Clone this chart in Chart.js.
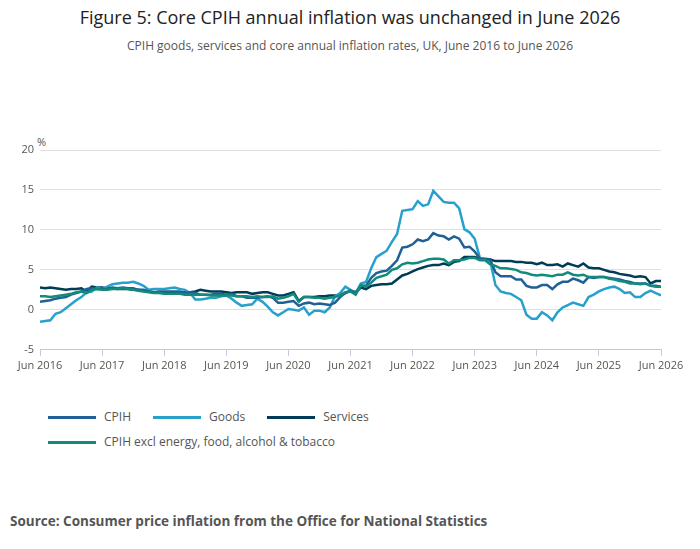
<!DOCTYPE html>
<html lang="en">
<head>
<meta charset="UTF-8">
<title>Figure 5: Core CPIH annual inflation</title>
<script src="https://cdn.jsdelivr.net/npm/chart.js"></script>
<style>
  body { margin: 0; width: 700px; height: 549px; font-family: "Open Sans", sans-serif; background: #fff; position: relative; }
  h1 { position: absolute; top: 5px; left: 0; width: 700px; margin: 0; text-align: center; font-size: 18px; font-weight: normal; color: #222; }
  .sub { position: absolute; top: 37px; left: 0; width: 700px; text-align: center; font-size: 12px; color: #555; }
  .pct { position: absolute; top: 134px; left: 37px; font-size: 11px; color: #555; }
  #wrap { position: absolute; top: 137px; left: 0; width: 700px; height: 238px; }
  .legend { position: absolute; left: 48px; font-size: 12px; color: #555; }
  .legend span { display: inline-block; margin-right: 22px; }
  .legend i { display: inline-block; width: 48px; height: 3px; vertical-align: middle; margin-right: 8px; }
  .src { position: absolute; top: 512px; left: 10px; font-size: 13.5px; font-weight: bold; color: #555; }
</style>
</head>
<body>
<h1>Figure 5: Core CPIH annual inflation was unchanged in June 2026</h1>
<div class="sub">CPIH goods, services and core annual inflation rates, UK, June 2016 to June 2026</div>
<div class="pct">%</div>
<div id="wrap"><canvas id="myChart"></canvas></div>
<div class="legend" style="top:408px"><span><i style="background:#206095"></i>CPIH</span><span><i style="background:#27a0cc"></i>Goods</span><span><i style="background:#003c57"></i>Services</span></div>
<div class="legend" style="top:433px"><span><i style="background:#118c7b"></i>CPIH excl energy, food, alcohol &amp; tobacco</span></div>
<div class="src">Source: Consumer price inflation from the Office for National Statistics</div>
<script>
// monthly, Jun 2016 .. Jun 2026 (121 points)
const startYear = 2016;
const seriesNames = ['CPIH', 'Goods', 'Services', 'CPIH excl energy, food, alcohol & tobacco'];
const seriesColors = ['#206095', '#27a0cc', '#003c57', '#118c7b'];

const cpih = [
  1.0,1.1,1.2,1.4,1.5,1.6,1.9,2.1,2.3,2.6,2.7,2.6,
  2.6,2.6,2.8,2.7,2.8,2.7,2.7,2.5,2.5,2.3,2.2,2.3,
  2.3,2.3,2.3,2.3,2.1,2.2,2.1,1.9,1.9,1.9,2.0,2.0,
  1.9,2.0,1.7,1.7,1.5,1.5,1.5,1.6,1.7,1.5,0.9,0.9,
  1.0,1.1,0.5,0.8,0.9,0.7,0.8,0.7,0.6,0.9,1.6,2.1,
  2.4,2.1,3.0,3.0,4.0,4.6,4.8,4.9,5.5,6.2,7.8,7.9,
  8.2,8.8,8.6,8.8,9.6,9.3,9.2,8.8,9.2,8.9,7.8,7.9,
  7.3,6.4,6.3,6.3,4.7,4.2,4.2,4.2,3.8,3.8,3.0,2.8,
  2.8,3.1,3.1,2.6,3.2,3.5,3.5,3.9,3.7,3.4,4.1,4.0,
  4.1,4.1,4.0,3.9,3.8,3.6,3.5,3.3,3.3,3.3,3.0,3.0,
  2.9
];
const goods = [
  -1.5,-1.4,-1.3,-0.5,-0.3,0.2,0.7,1.2,1.6,2.2,2.3,2.8,
  2.6,2.9,3.2,3.3,3.4,3.4,3.5,3.3,3.0,2.5,2.6,2.6,
  2.6,2.7,2.8,2.6,2.5,2.1,1.3,1.3,1.4,1.5,1.5,1.7,
  1.8,1.4,0.9,0.5,0.6,0.7,1.4,1.0,0.4,-0.3,-0.7,-0.3,
  0.1,0.0,-0.1,0.3,-0.6,-0.1,-0.1,-0.3,0.3,1.7,2.1,2.9,
  2.5,2.1,3.3,3.5,5.2,6.6,7.0,7.4,8.5,9.5,12.4,12.5,
  12.6,13.6,13.0,13.2,14.9,14.2,13.5,13.4,13.4,12.7,10.1,9.7,
  8.9,6.5,6.3,6.1,3.1,2.3,2.1,2.0,1.6,1.2,-0.6,-1.1,
  -1.1,-0.3,-0.7,-1.3,-0.3,0.3,0.6,0.9,0.7,0.5,1.6,1.9,
  2.3,2.6,2.8,2.9,2.6,2.1,2.2,1.6,1.6,2.1,2.4,2.1,
  1.8
];
const services = [
  2.8,2.7,2.8,2.7,2.6,2.5,2.6,2.6,2.7,2.3,2.9,2.8,
  2.8,2.7,2.7,2.6,2.6,2.6,2.5,2.5,2.4,2.3,2.2,2.2,
  2.2,2.2,2.2,2.1,2.2,2.2,2.3,2.5,2.4,2.3,2.3,2.3,
  2.2,2.1,2.2,2.2,2.2,2.0,2.1,2.2,2.2,2.0,1.8,1.8,
  2.0,2.2,1.1,1.6,1.6,1.6,1.7,1.7,1.8,1.8,1.9,2.1,
  2.4,2.2,2.8,2.6,3.0,3.1,3.2,3.2,3.3,3.8,4.3,4.5,
  4.8,5.1,5.3,5.5,5.6,5.6,5.8,5.6,6.0,6.1,6.6,6.6,
  6.6,6.4,6.4,6.3,6.1,6.1,6.1,6.1,6.0,6.0,5.9,5.9,
  5.7,5.9,5.6,5.6,5.7,5.4,5.8,5.6,5.4,5.8,5.3,5.2,
  5.2,5.0,4.8,4.7,4.5,4.4,4.3,4.1,4.2,4.1,3.3,3.6,
  3.6
];
const core = [
  1.7,1.7,1.6,1.7,1.8,1.9,2.0,2.2,2.3,2.1,2.5,2.6,
  2.5,2.5,2.6,2.6,2.7,2.6,2.5,2.4,2.3,2.2,2.1,2.1,
  2.0,2.0,2.0,2.0,1.9,1.9,1.9,1.9,1.9,1.8,1.8,1.8,
  1.8,1.8,1.7,1.7,1.7,1.6,1.7,1.6,1.6,1.7,1.4,1.5,
  1.7,2.0,1.0,1.6,1.6,1.5,1.5,1.4,1.5,1.6,1.8,2.2,
  2.3,1.9,3.1,2.9,3.4,4.0,4.2,4.4,5.0,5.2,5.7,5.9,
  5.8,5.9,6.1,6.3,6.4,6.4,6.3,5.8,6.2,6.2,6.3,6.5,
  6.5,6.2,6.2,5.7,5.5,5.2,5.2,5.1,5.0,4.7,4.6,4.4,
  4.3,4.4,4.3,4.2,4.4,4.4,4.7,4.4,4.3,4.4,4.1,4.1,
  4.1,4.1,3.9,3.8,3.6,3.5,3.3,3.3,3.2,3.3,3.0,2.9,
  2.9
];
const yTicks = [-5, 0, 5, 10, 15, 20];

const allSeries = [cpih, goods, services, core];
const datasets = allSeries.map((vals, i) => ({
  label: seriesNames[i],
  data: vals.map((v, k) => ({ x: k, y: v })),
  borderColor: seriesColors[i],
  borderWidth: 2.5,
  pointRadius: 0,
  tension: 0,
  order: i === 3 ? 0 : 1
}));

new Chart(document.getElementById('myChart'), {
  type: 'line',
  data: { datasets: datasets },
  options: {
    responsive: true,
    maintainAspectRatio: false,
    animation: false,
    layout: { padding: { left: 2, right: 39, top: 13, bottom: 0 } },
    plugins: { legend: { display: false }, tooltip: { enabled: false } },
    scales: {
      x: {
        type: 'linear', min: 0, max: 120,
        grid: { display: true, drawOnChartArea: false, tickLength: 6, color: '#b8cce4' },
        border: { color: '#b8cce4' },
        ticks: {
          stepSize: 12, color: '#555', font: { size: 11, family: 'Open Sans' }, maxRotation: 0,
          callback: v => 'Jun ' + (startYear + v / 12)
        }
      },
      y: {
        min: yTicks[0], max: yTicks[yTicks.length - 1],
        afterBuildTicks: axis => { axis.ticks = yTicks.map(v => ({ value: v })); },
        grid: { color: '#e0e0e0', drawTicks: false },
        border: { display: false },
        ticks: { color: '#555', font: { size: 11, family: 'Open Sans' }, padding: 6 },
        afterFit: axis => { axis.width = 38; }
      }
    }
  }
});
</script>
</body>
</html>
